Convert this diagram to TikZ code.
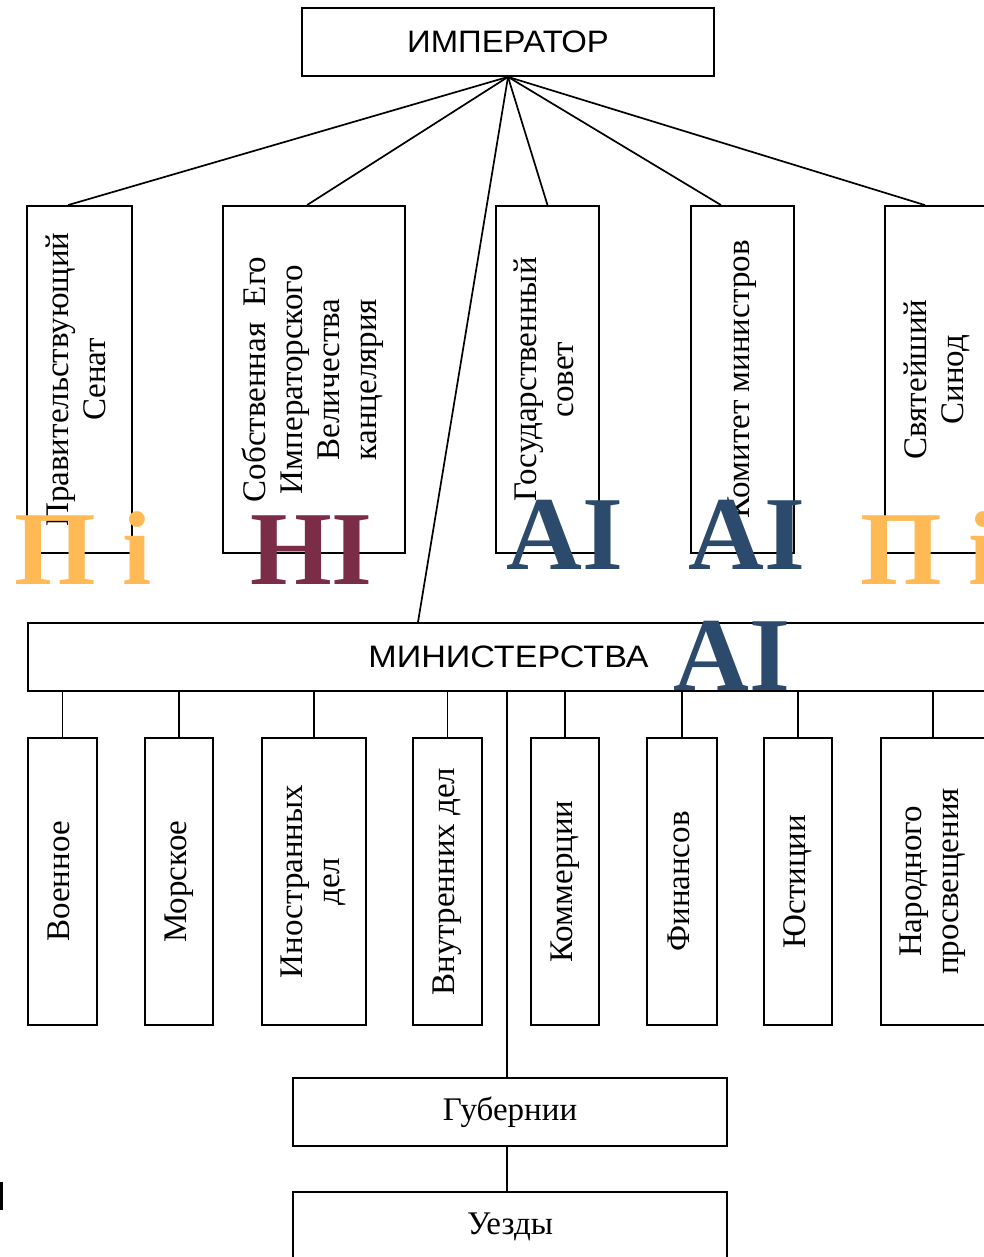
\documentclass[tikz,border=0pt]{standalone}
\usepackage{fontspec}
\usepackage{graphicx}
\setmainfont{Liberation Serif}
\newfontfamily\titlefont{Liberation Sans}
\definecolor{wmorange}{RGB}{255,186,85}
\definecolor{wmred}{RGB}{123,45,72}
\definecolor{wmblue}{RGB}{44,74,107}
\newcommand\vtext[1]{\rotatebox{90}{\begin{tabular}{@{}c@{}}#1\end{tabular}}}
\begin{document}
\begin{tikzpicture}[x=1pt,y=-1pt,
  box/.style={draw, line width=1.8pt, inner sep=0pt, rectangle, font=\fontsize{33}{37}\selectfont},
  topbox/.style={box, minimum height=347pt},
  minbox/.style={box, minimum height=287pt},
  conn/.style={line width=1.7pt},
  wm/.style={anchor=base west, inner sep=0pt, font=\fontsize{105}{105}\selectfont\bfseries}]
\useasboundingbox (0,0) rectangle (984,1257);
\clip (0,0) rectangle (984,1257);

% top level
\node[box, minimum width=412pt, minimum height=68pt, font=\titlefont\fontsize{31}{34}\selectfont] (imp) at (508,42) {\scalebox{1.06}[1]{ИМПЕРАТОР}};

\node[topbox, minimum width=105pt] (senat) at (79.5,379.5) {\vtext{Правительствующий\\Сенат}};
\node[topbox, minimum width=182pt] (kanc) at (314,379.5) {\vtext{Собственная\ \ Его\\Императорского\\Величества\\канцелярия}};
\node[topbox, minimum width=103pt] (gos) at (547.5,379.5) {\vtext{Государственный\\совет}};
\node[topbox, minimum width=103pt] (kom) at (742.5,379.5) {\vtext{Комитет министров}};
\node[topbox, minimum width=105pt] (sinod) at (937.5,379.5) {\vtext{Святейший\\Синод}};

\node[box, minimum width=961pt, minimum height=68pt, font=\titlefont\fontsize{31}{34}\selectfont] (min) at (508.5,657) {\scalebox{1.1}[1]{МИНИСТЕРСТВА}};

\draw[conn] (imp.south) -- ([xshift=-11.5pt]senat.north);
\draw[conn] (imp.south) -- ([xshift=-7pt]kanc.north);
\draw[conn] (imp.south) -- ([xshift=-90.5pt]min.north);
\draw[conn] (imp.south) -- (gos.north);
\draw[conn] (imp.south) -- ([xshift=-21.5pt]kom.north);
\draw[conn] (imp.south) -- ([xshift=-12.5pt]sinod.north);

% ministries
\node[minbox, minimum width=69pt] (voen) at (62.5,881.5) {\vtext{Военное}};
\node[minbox, minimum width=68pt] (mor) at (179,881.5) {\vtext{Морское}};
\node[minbox, minimum width=104pt] (inostr) at (314,881.5) {\vtext{Иностранных\\дел}};
\node[minbox, minimum width=69pt] (vnutr) at (447.5,881.5) {\vtext{Внутренних дел}};
\node[minbox, minimum width=68pt] (komm) at (565,881.5) {\vtext{Коммерции}};
\node[minbox, minimum width=70pt] (fin) at (682,881.5) {\vtext{Финансов}};
\node[minbox, minimum width=68pt] (yust) at (798,881.5) {\vtext{Юстиции}};
\node[minbox, minimum width=104pt] (nar) at (933,881.5) {\vtext{Народного\\просвещения}};

\foreach \n in {voen,mor,inostr,vnutr,komm,fin,yust,nar}
  \draw[conn] (\n.north) -- (\n.north |- min.south);

% provinces
\node[box, minimum width=434pt, minimum height=68pt] (gub) at (510,1112) {Губернии};
\node[box, minimum width=434pt, minimum height=70pt] (uezd) at (510,1227) {Уезды};

\draw[conn] ([xshift=-3pt]gub.north) -- ([xshift=-3pt]gub.north |- min.south);
\draw[conn] ([xshift=-3pt]uezd.north) -- ([xshift=-3pt]gub.south);

% left edge mark
\fill (0,1182) rectangle (3,1210);

% overlay labels
\node[wm, text=wmorange] (wm1) at (14,584) {П i};
\node[wm, text=wmred] (wm2) at (250,584) {HI};
\node[wm, text=wmblue] (wm3) at (506,569) {AI};
\node[wm, text=wmblue] (wm4) at (688,569) {AI};
\node[wm, text=wmorange] (wm5) at (860,584) {П i};
\node[wm, text=wmblue] (wm6) at (673,690) {AI};
\end{tikzpicture}
\end{document}
